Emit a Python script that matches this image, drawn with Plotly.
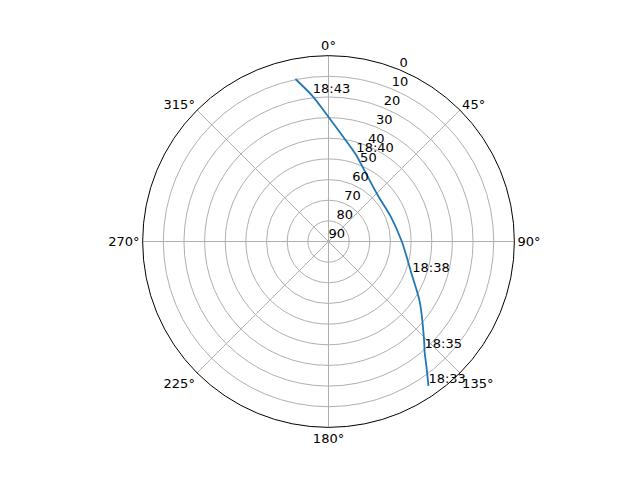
import plotly.graph_objects as go

# satellite pass, azimuth (deg, clockwise from north) and elevation (deg)
pass_az = [145.3, 142.1, 138.8, 136.4, 123.3, 111.8, 90.0, 68.4, 46.3, 26.1, 17.9, 14.3, 0.0, 353.8, 348.5]
pass_el = [5.0, 12.7, 19.4, 22.8, 37.2, 46.5, 54.5, 57.5, 57.2, 51.1, 46.1, 43.8, 29.7, 19.3, 9.7]

# time labels along the pass
label_times = ["18:33", "18:35", "18:38", "18:40", "18:43"]
label_az = [145.3, 138.8, 111.8, 17.9, 353.8]
label_el = [5.0, 19.4, 46.3, 46.1, 19.3]

az_ticks = [0, 45, 90, 135, 180, 225, 270, 315]
el_ticks = [0, 10, 20, 30, 40, 50, 60, 70, 80, 90]

font = dict(family="DejaVu Sans", size=13, color="black")

fig = go.Figure()
fig.add_trace(go.Scatterpolar(
    r=pass_el, theta=pass_az, mode="lines",
    line=dict(color="#1f77b4", width=1.8, shape="spline", smoothing=0.8),
    showlegend=False,
))
fig.add_trace(go.Scatterpolar(
    r=label_el, theta=label_az, mode="text", text=label_times,
    textposition="top right", textfont=font, showlegend=False,
))
# radial tick labels along the 22.5 deg direction, matplotlib style
fig.add_trace(go.Scatterpolar(
    r=el_ticks, theta=[22.5] * len(el_ticks), mode="text",
    text=[str(e) for e in el_ticks], textposition="top right",
    textfont=font, showlegend=False, hoverinfo="skip",
))

fig.update_layout(
    width=640, height=480,
    margin=dict(l=0, r=0, t=0, b=0),
    paper_bgcolor="white",
    font=font,
    polar=dict(
        domain=dict(x=[0.2104, 0.7912], y=[0.125, 0.902]),
        bgcolor="white",
        angularaxis=dict(
            rotation=90, direction="clockwise",
            tickvals=az_ticks, ticktext=[f"{a}°" for a in az_ticks],
            ticks="", showline=True, linecolor="black", linewidth=1,
            showgrid=True, gridcolor="#b0b0b0", gridwidth=0.8,
        ),
        radialaxis=dict(
            range=[90, 0], tickvals=el_ticks, showticklabels=False,
            ticks="", showline=False,
            showgrid=True, gridcolor="#b0b0b0", gridwidth=0.8,
        ),
    ),
)

fig.write_html("out.html")
